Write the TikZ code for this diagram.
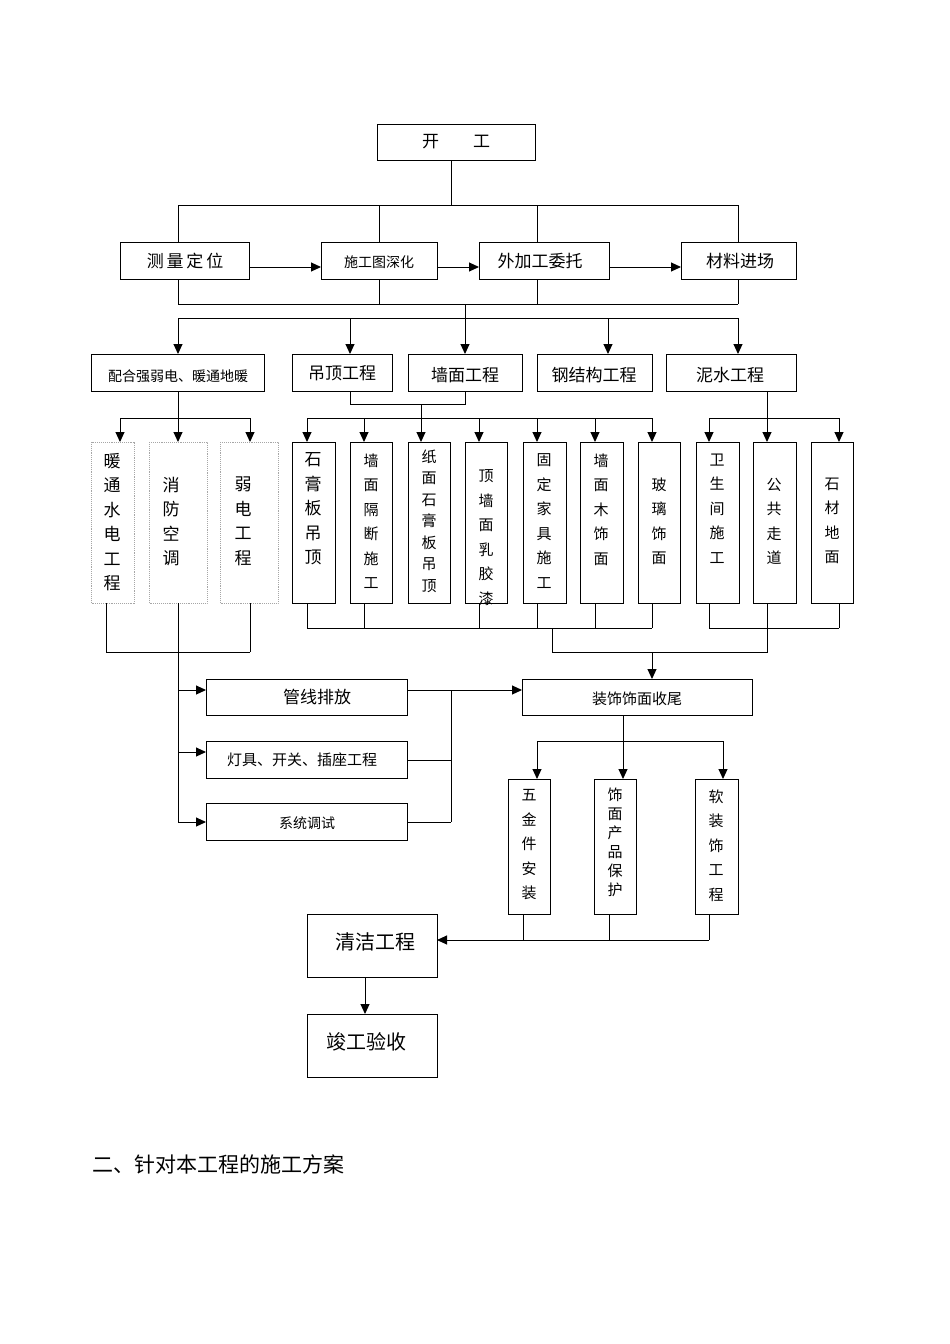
\documentclass[tikz,border=0pt]{standalone}
\usepackage{fontspec}
\newfontfamily\cjk{Noto Sans CJK SC}
\usetikzlibrary{arrows.meta}
\begin{document}
\begin{tikzpicture}[x=1pt,y=-1pt,
  line width=1pt,
  arr/.style={-{Triangle[length=10pt,width=9pt]}},
  bx/.style={draw,line width=1pt},
  dbx/.style={draw=gray!70,densely dotted,line width=0.9pt},
  tx/.style={font=\cjk\fontsize{17}{18}\selectfont},
  sx/.style={font=\cjk\fontsize{14}{17}\selectfont},
  vx/.style={font=\cjk\fontsize{17}{24.5}\selectfont,align=center,anchor=north},
  vs/.style={font=\cjk\fontsize{15}{24.5}\selectfont,align=center,anchor=north}]
\useasboundingbox (0,0) rectangle (950,1344);
% boxes
\draw[bx] (377,124) rectangle (535,160); \node[tx] (kg) at (456,142) {开\quad\quad 工};
\draw[bx] (120,242) rectangle (249,279); \node[tx] (a1) at (185,261) {测\,量\,定\,位};
\draw[bx] (321,242) rectangle (437,279); \node[sx] (a2) at (379,262) {施工图深化};
\draw[bx] (479,242) rectangle (609,279); \node[tx] (a3) at (540,261) {外加工委托};
\draw[bx] (681,242) rectangle (796,279); \node[tx] (a4) at (740,261) {材料进场};
\draw (451,160) -- (451,205); \draw (178,205) -- (738,205);
\foreach \x in {178,379,537,738} {\draw (\x,205) -- (\x,242); \draw (\x,279) -- (\x,304);}
\draw (178,304) -- (738,304);
\draw[arr] (249,267) -- (321,267); \draw[arr] (437,267) -- (479,267); \draw[arr] (609,267) -- (681,267);
\draw (465,304) -- (465,318); \draw (178,318) -- (738,318);
\foreach \x in {178,350,465,608,738} \draw[arr] (\x,318) -- (\x,354);
\draw[bx] (91,354) rectangle (264,391); \node[sx] (b1) at (178,376) {配合强弱电、暖通地暖};
\draw[bx] (292,354) rectangle (392,391); \node[tx] (b2) at (342,373) {吊顶工程};
\draw[bx] (408,354) rectangle (522,391); \node[tx] (b3) at (465,375) {墙面工程};
\draw[bx] (537,354) rectangle (652,391); \node[tx] (b4) at (594,375) {钢结构工程};
\draw[bx] (666,354) rectangle (796,391); \node[tx] (b5) at (730,375) {泥水工程};
% branches
\draw (178,391) -- (178,418); \draw (120,418) -- (250,418);
\foreach \x in {120,178,250} \draw[arr] (\x,418) -- (\x,442);
\draw (350,391) -- (350,404) -- (465,404) -- (465,391); \draw (421,404) -- (421,418);
\draw (307,418) -- (652,418);
\foreach \x in {307,364,421,479,537,595,652} \draw[arr] (\x,418) -- (\x,442);
\draw (767,391) -- (767,418); \draw (709,418) -- (839,418);
\foreach \x in {709,767,839} \draw[arr] (\x,418) -- (\x,442);
% columns
\draw[dbx] (91,442) rectangle (134,603); \node[vx] (c1) at (112,449) {暖\\通\\水\\电\\工\\程};
\draw[dbx] (149,442) rectangle (207,603); \node[vx] (c2) at (171,473) {消\\防\\空\\调};
\draw[dbx] (220,442) rectangle (278,603); \node[vx] (c3) at (243,473) {弱\\电\\工\\程};
\draw[bx] (292,442) rectangle (335,603); \node[vx] (d1) at (313,449) {石\\膏\\板\\吊\\顶};
\draw[bx] (350,442) rectangle (392,603); \node[vs] (d2) at (371,450) {墙\\面\\隔\\断\\施\\工};
\draw[bx] (408,442) rectangle (450,603); \node[vs,font=\cjk\fontsize{15}{21.5}\selectfont] (d3) at (429,446) {纸\\面\\石\\膏\\板\\吊\\顶};
\draw[bx] (465,442) rectangle (507,603); \node[vs] (d4) at (486,466) {顶\\墙\\面\\乳\\胶\\漆};
\draw[bx] (523,442) rectangle (566,603); \node[vs] (d5) at (544,450) {固\\定\\家\\具\\施\\工};
\draw[bx] (580,442) rectangle (623,603); \node[vs] (d6) at (601,450) {墙\\面\\木\\饰\\面};
\draw[bx] (638,442) rectangle (680,603); \node[vs] (d7) at (659,474) {玻\\璃\\饰\\面};
\draw[bx] (696,442) rectangle (739,603); \node[vs] (e1) at (717,450) {卫\\生\\间\\施\\工};
\draw[bx] (753,442) rectangle (796,603); \node[vs] (e2) at (774,474) {公\\共\\走\\道};
\draw[bx] (811,442) rectangle (853,603); \node[vs] (e3) at (832,474) {石\\材\\地\\面};
% bottom joins
\foreach \x in {106,178,250} \draw (\x,603) -- (\x,652);
\draw (106,652) -- (250,652);
\foreach \x in {307,364,479,537,595,652} \draw (\x,603) -- (\x,628);
\draw (307,628) -- (652,628);
\foreach \x in {709,767,839} \draw (\x,603) -- (\x,628);
\draw (709,628) -- (839,628);
\draw (552,628) -- (552,652) -- (767,652) -- (767,628);
\draw[arr] (652,652) -- (652,679);
\draw (178,652) -- (178,822);
\foreach \y in {690,752,822} \draw[arr] (178,\y) -- (206,\y);
\draw[bx] (206,679) rectangle (407,715); \node[tx] (f1) at (317,697) {管线排放};
\draw[bx] (206,741) rectangle (407,778); \node[sx,font=\cjk\fontsize{15}{17}\selectfont] (f2) at (302,760) {灯具、开关、插座工程};
\draw[bx] (206,803) rectangle (407,840); \node[sx] (f3) at (307,823) {系统调试};
\draw (407,760) -- (451,760); \draw (407,822) -- (451,822); \draw (451,690) -- (451,822);
\draw[arr] (407,690) -- (522,690);
\draw[bx] (522,679) rectangle (752,715); \node[sx,font=\cjk\fontsize{15}{17}\selectfont] (g) at (637,699) {装饰饰面收尾};
\draw (623,715) -- (623,741); \draw (537,741) -- (723,741);
\foreach \x in {537,623,723} \draw[arr] (\x,741) -- (\x,779);
\draw[bx] (508,779) rectangle (550,914); \node[vs] (h1) at (529,786) {五\\金\\件\\安\\装};
\draw[bx] (594,779) rectangle (636,914); \node[vs,font=\cjk\fontsize{15}{19}\selectfont] (h2) at (615,784) {饰\\面\\产\\品\\保\\护};
\draw[bx] (695,779) rectangle (738,914); \node[vs] (h3) at (716,786) {软\\装\\饰\\工\\程};
\draw (523,914) -- (523,940); \draw (609,914) -- (609,940); \draw (709,914) -- (709,940);
\draw[arr] (709,940) -- (437,940);
\draw[bx] (307,914) rectangle (437,977); \node[font=\cjk\fontsize{20}{22}\selectfont] (q) at (375,942) {清洁工程};
\draw[arr] (365,977) -- (365,1014);
\draw[bx] (307,1014) rectangle (437,1077); \node[font=\cjk\fontsize{20}{22}\selectfont] (j) at (366,1042) {竣工验收};
\node[font=\cjk\fontsize{21}{24}\selectfont,anchor=west] (t) at (89,1164) {二、针对本工程的施工方案};
\end{tikzpicture}
\end{document}
